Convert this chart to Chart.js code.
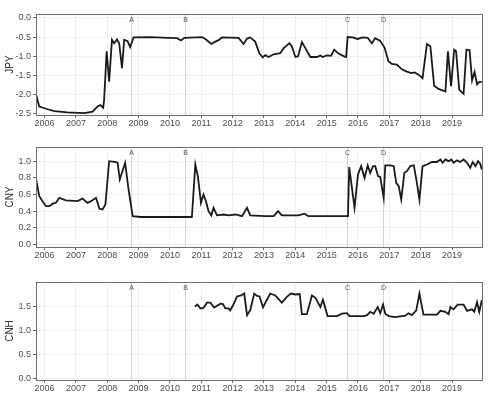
<!DOCTYPE html>
<html>
<head>
<meta charset="utf-8">
<script src="https://cdn.jsdelivr.net/npm/chart.js@4"></script>
<style>
  body { margin: 0; background: #fff; }
  #wrap { position: relative; width: 500px; height: 400px; }
  #wrap canvas { position: absolute; left: 0; }
</style>
</head>
<body>
<div id="wrap">
  <canvas id="jpy" width="500" height="130" style="top:0px"></canvas>
  <canvas id="cny" width="500" height="135" style="top:130px"></canvas>
  <canvas id="cnh" width="500" height="135" style="top:265px"></canvas>
</div>
<script>
// [decimal year, value]
const jpySeries = [
  [2005.73, -2.01], [2005.83, -2.31], [2006.1, -2.38], [2006.31, -2.43], [2006.73, -2.46],
  [2007.27, -2.48], [2007.53, -2.44], [2007.69, -2.31], [2007.78, -2.27], [2007.87, -2.34],
  [2007.9, -2.14], [2007.98, -0.87], [2008.06, -1.66], [2008.15, -0.57], [2008.22, -0.66],
  [2008.31, -0.56], [2008.38, -0.66], [2008.47, -1.31], [2008.54, -0.57], [2008.65, -0.61],
  [2008.73, -0.76], [2008.84, -0.51], [2009.39, -0.5], [2009.92, -0.52], [2010.23, -0.53],
  [2010.35, -0.59], [2010.46, -0.52], [2011.02, -0.5], [2011.13, -0.55], [2011.32, -0.68],
  [2011.45, -0.62], [2011.55, -0.58], [2011.66, -0.51], [2012.19, -0.52], [2012.35, -0.68],
  [2012.46, -0.54], [2012.56, -0.51], [2012.72, -0.62], [2012.85, -0.92], [2012.96, -1.03],
  [2013.04, -0.97], [2013.15, -1.02], [2013.31, -0.95], [2013.52, -0.92], [2013.63, -0.79],
  [2013.81, -0.66], [2013.89, -0.74], [2014.0, -1.02], [2014.09, -1.0], [2014.21, -0.63],
  [2014.32, -0.79], [2014.48, -1.02], [2014.69, -1.02], [2014.8, -0.98], [2014.87, -1.02],
  [2015.01, -0.98], [2015.14, -0.99], [2015.24, -0.83], [2015.38, -0.93], [2015.57, -1.01],
  [2015.62, -1.02], [2015.67, -0.5], [2015.83, -0.51], [2015.99, -0.55], [2016.15, -0.51],
  [2016.31, -0.52], [2016.44, -0.66], [2016.55, -0.53], [2016.71, -0.6], [2016.85, -0.78],
  [2016.97, -1.13], [2017.08, -1.2], [2017.24, -1.22], [2017.4, -1.34], [2017.56, -1.4],
  [2017.7, -1.44], [2017.81, -1.42], [2017.93, -1.48], [2018.06, -1.57], [2018.2, -0.68],
  [2018.31, -0.74], [2018.43, -1.77], [2018.57, -1.85], [2018.79, -1.92], [2018.87, -0.87],
  [2018.97, -1.78], [2019.07, -0.83], [2019.13, -0.87], [2019.23, -1.87], [2019.37, -1.98],
  [2019.46, -0.83], [2019.56, -0.84], [2019.64, -1.63], [2019.72, -1.41], [2019.8, -1.73],
  [2019.87, -1.67], [2019.95, -1.67]
];

const cnySeries = [
  [2005.73, 0.78], [2005.83, 0.58], [2005.9, 0.54], [2006.04, 0.46], [2006.15, 0.46],
  [2006.26, 0.49], [2006.36, 0.50], [2006.47, 0.56], [2006.68, 0.53], [2007.05, 0.52],
  [2007.21, 0.55], [2007.37, 0.50], [2007.48, 0.52], [2007.64, 0.56], [2007.75, 0.43],
  [2007.85, 0.42], [2007.94, 0.48], [2008.06, 1.0], [2008.28, 0.99], [2008.33, 0.98],
  [2008.4, 0.78], [2008.57, 0.98], [2008.68, 0.66], [2008.81, 0.34], [2009.07, 0.33],
  [2010.56, 0.33], [2010.7, 0.33], [2010.81, 0.96], [2010.89, 0.82], [2010.99, 0.50],
  [2011.07, 0.60], [2011.15, 0.52], [2011.23, 0.40], [2011.32, 0.35], [2011.39, 0.44],
  [2011.5, 0.35], [2011.71, 0.36], [2011.87, 0.35], [2012.09, 0.36], [2012.3, 0.34],
  [2012.46, 0.44], [2012.56, 0.35], [2013.04, 0.34], [2013.31, 0.34], [2013.45, 0.40],
  [2013.57, 0.35], [2014.1, 0.35], [2014.29, 0.37], [2014.42, 0.34], [2015.68, 0.34],
  [2015.72, 0.93], [2015.89, 0.44], [2016.0, 0.84], [2016.1, 0.94], [2016.21, 0.80],
  [2016.31, 0.95], [2016.39, 0.86], [2016.48, 0.94], [2016.55, 0.94], [2016.64, 0.82],
  [2016.71, 0.81], [2016.82, 0.56], [2016.87, 0.95], [2017.03, 0.95], [2017.14, 0.94],
  [2017.22, 0.74], [2017.3, 0.70], [2017.38, 0.54], [2017.48, 0.86], [2017.56, 0.88],
  [2017.67, 0.94], [2017.78, 0.95], [2017.88, 0.74], [2017.96, 0.54], [2018.06, 0.94],
  [2018.2, 0.96], [2018.36, 0.99], [2018.52, 0.99], [2018.63, 1.02], [2018.7, 0.98],
  [2018.79, 1.02], [2018.89, 1.0], [2018.98, 1.02], [2019.05, 0.98], [2019.16, 1.01],
  [2019.26, 0.99], [2019.37, 1.02], [2019.48, 0.98], [2019.58, 0.92], [2019.66, 0.99],
  [2019.75, 0.94], [2019.83, 1.0], [2019.9, 0.97], [2019.95, 0.90]
];

const cnhSeries = [
  [2010.79, 1.49], [2010.88, 1.53], [2010.97, 1.45], [2011.07, 1.46], [2011.18, 1.57],
  [2011.29, 1.57], [2011.41, 1.47], [2011.61, 1.55], [2011.69, 1.54], [2011.77, 1.45],
  [2011.87, 1.45], [2011.92, 1.41], [2012.01, 1.51], [2012.14, 1.70], [2012.27, 1.72],
  [2012.37, 1.76], [2012.46, 1.31], [2012.56, 1.41], [2012.69, 1.76], [2012.78, 1.71],
  [2012.86, 1.70], [2012.97, 1.47], [2013.07, 1.60], [2013.2, 1.76], [2013.36, 1.72],
  [2013.57, 1.57], [2013.73, 1.69], [2013.86, 1.76], [2014.0, 1.74], [2014.14, 1.75],
  [2014.21, 1.33], [2014.37, 1.33], [2014.53, 1.72], [2014.64, 1.67], [2014.8, 1.48],
  [2014.88, 1.63], [2015.03, 1.29], [2015.33, 1.29], [2015.49, 1.34], [2015.65, 1.35],
  [2015.73, 1.29], [2016.18, 1.29], [2016.29, 1.31], [2016.39, 1.38], [2016.5, 1.34],
  [2016.63, 1.48], [2016.71, 1.35], [2016.8, 1.53], [2016.87, 1.34], [2016.98, 1.29],
  [2017.19, 1.27], [2017.51, 1.30], [2017.61, 1.35], [2017.72, 1.31], [2017.86, 1.41],
  [2017.96, 1.76], [2018.09, 1.32], [2018.52, 1.32], [2018.63, 1.40], [2018.79, 1.38],
  [2018.89, 1.33], [2018.95, 1.48], [2019.05, 1.43], [2019.18, 1.53], [2019.37, 1.53],
  [2019.48, 1.40], [2019.64, 1.43], [2019.71, 1.38], [2019.8, 1.58], [2019.87, 1.38],
  [2019.95, 1.62]
];

const eventLabels = ['A', 'B', 'C', 'D'];
const eventDates = [2008.77, 2010.49, 2015.66, 2016.8];

const yearTicks = [2006, 2007, 2008, 2009, 2010, 2011, 2012, 2013, 2014, 2015, 2016, 2017, 2018, 2019];
const jpyTicks = [-2.5, -2.0, -1.5, -1.0, -0.5, 0.0];
const cnyTicks = [0.0, 0.2, 0.4, 0.6, 0.8, 1.0];
const cnhTicks = [0.0, 0.5, 1.0, 1.5];

const X_MIN = 2005.726;
const X_MAX = 2019.957;

Chart.defaults.font.family = '"Liberation Sans", Arial, sans-serif';
Chart.defaults.font.size = 9;
Chart.defaults.color = '#4d4d4d';

// event lines + letters behind the line, panel border on top
const panelDecor = {
    id: 'panelDecor',
    beforeDatasetsDraw(chart) {
        const { ctx, chartArea: a, scales: { x } } = chart;
        ctx.save();
        ctx.strokeStyle = '#d2d2d2';
        ctx.lineWidth = 1;
        ctx.fillStyle = '#555';
        ctx.font = '7px "Liberation Sans", Arial, sans-serif';
        ctx.textAlign = 'center';
        ctx.textBaseline = 'middle';
        eventDates.forEach((d, i) => {
            const px = Math.round(x.getPixelForValue(d)) + 0.5;
            ctx.beginPath();
            ctx.moveTo(px, a.top);
            ctx.lineTo(px, a.bottom);
            ctx.stroke();
            ctx.fillText(eventLabels[i], px, a.top + 6);
        });
        ctx.restore();
    },
    afterDraw(chart) {
        const { ctx, chartArea: a } = chart;
        ctx.save();
        ctx.strokeStyle = '#6e6e6e';
        ctx.lineWidth = 1;
        ctx.strokeRect(Math.round(a.left) + 0.5, Math.round(a.top) + 0.5,
            Math.round(a.right - a.left), Math.round(a.bottom - a.top));
        ctx.restore();
    }
};

function makePanel(id, series, title, yMin, yMax, yTicks, padTop, xAxisH) {
    const ctx = document.getElementById(id).getContext('2d');
    return new Chart(ctx, {
        type: 'line',
        data: {
            datasets: [{
                data: series.map(p => ({ x: p[0], y: p[1] })),
                borderColor: '#1a1a1a',
                borderWidth: 1.8,
                pointRadius: 0,
                tension: 0,
                fill: false
            }]
        },
        options: {
            responsive: false,
            animation: false,
            devicePixelRatio: 1,
            layout: { padding: { top: padTop, right: 18, left: 0, bottom: 0 } },
            plugins: { legend: { display: false }, tooltip: { enabled: false } },
            scales: {
                x: {
                    type: 'linear',
                    min: X_MIN,
                    max: X_MAX,
                    afterBuildTicks: s => { s.ticks = yearTicks.map(v => ({ value: v })); },
                    afterFit: s => { s.height = xAxisH; },
                    grid: { color: '#f0f0f0', tickColor: '#666', tickLength: 3 },
                    border: { display: false },
                    ticks: { padding: 0, maxRotation: 0, autoSkip: false, callback: v => String(v) }
                },
                y: {
                    min: yMin,
                    max: yMax,
                    afterBuildTicks: s => { s.ticks = yTicks.map(v => ({ value: v })); },
                    afterFit: s => { s.width = 36; },
                    grid: { color: '#f0f0f0', tickColor: '#666', tickLength: 3 },
                    border: { display: false },
                    ticks: { padding: 2, callback: v => v.toFixed(1) },
                    title: {
                        display: true,
                        text: title,
                        color: '#333',
                        font: { size: 10 },
                        padding: { top: 4, bottom: 0 }
                    }
                }
            }
        },
        plugins: [panelDecor]
    });
}

makePanel('jpy', jpySeries, 'JPY', -2.53, 0.1, jpyTicks, 14, 15);
makePanel('cny', cnySeries, 'CNY', -0.03, 1.17, cnyTicks, 17, 18);
makePanel('cnh', cnhSeries, 'CNH', -0.04, 2.0, cnhTicks, 17, 20);
</script>
</body>
</html>
